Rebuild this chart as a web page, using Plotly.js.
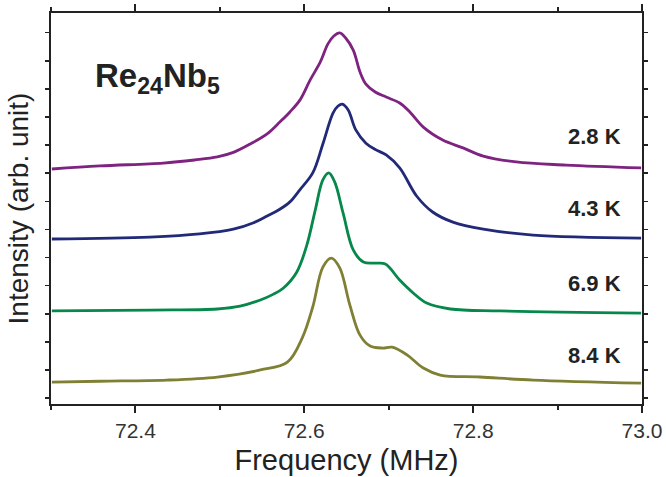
<!DOCTYPE html>
<html>
<head>
<meta charset="utf-8">
<script src="https://cdn.plot.ly/plotly-3.0.1.min.js"></script>
<style>html,body{margin:0;padding:0;background:#fff;}#chart{width:666px;height:477px;}</style>
</head>
<body>
<div id="chart"></div>
<script>
// Frequency (MHz) and intensity (arb. unit, vertically offset) for each temperature
var x28 = [72.301,72.358,72.433,72.470,72.497,72.516,72.536,72.556,72.571,72.583,72.595,72.607,72.619,72.628,72.635,72.642,72.649,72.658,72.666,72.673,72.684,72.697,72.713,72.725,72.741,72.764,72.788,72.812,72.851,72.910,72.999];
var y28 = [8.15,8.26,8.36,8.47,8.58,8.74,9.04,9.40,9.82,10.18,10.61,11.32,11.96,12.60,12.88,12.99,12.81,12.38,11.60,11.17,10.89,10.71,10.50,10.18,9.64,9.18,8.90,8.61,8.40,8.29,8.19];

var x43 = [72.301,72.417,72.476,72.516,72.540,72.556,72.570,72.583,72.595,72.610,72.622,72.634,72.640,72.645,72.652,72.661,72.673,72.685,72.697,72.713,72.733,72.752,72.776,72.812,72.871,72.999];
var y43 = [5.66,5.73,5.84,6.01,6.24,6.48,6.70,6.98,7.42,8.01,9.04,10.14,10.39,10.46,10.25,9.54,9.07,8.83,8.65,8.19,7.19,6.62,6.26,6.01,5.80,5.69];

var x69 = [72.301,72.417,72.497,72.524,72.548,72.563,72.575,72.591,72.603,72.613,72.622,72.629,72.636,72.646,72.658,72.670,72.684,72.696,72.713,72.729,72.745,72.773,72.832,72.999];
var y69 = [3.10,3.13,3.17,3.27,3.49,3.69,3.91,4.48,5.44,6.69,7.76,8.01,7.69,6.58,5.27,4.84,4.80,4.77,4.20,3.74,3.38,3.17,3.10,3.02];

var x84 = [72.301,72.358,72.437,72.497,72.548,72.580,72.598,72.610,72.622,72.632,72.642,72.654,72.666,72.678,72.693,72.704,72.722,72.741,72.761,72.808,72.871,72.999];
var y84 = [0.57,0.60,0.64,0.75,1.00,1.28,2.17,3.24,4.66,4.98,4.63,3.31,2.24,1.85,1.78,1.81,1.53,1.07,0.82,0.75,0.64,0.53];

var labels = ["2.8 K","4.3 K","6.9 K","8.4 K"];
var labelY = [9.29,6.76,4.09,1.53];
var colors = ["#7e2480","#222a78","#05884a","#7f8034"];
var xTicks = [72.4,72.6,72.8,73.0];
var xTickText = ["72.4","72.6","72.8","73.0"];

var series = [[x28,y28],[x43,y43],[x69,y69],[x84,y84]];
var data = series.map(function(s,i){
  return {x:s[0], y:s[1], type:'scatter', mode:'lines', line:{color:colors[i], width:2.8, shape:'spline', smoothing:1.0}, hoverinfo:'skip', showlegend:false};
});

var annotations = labels.map(function(t,i){
  return {x:72.977, y:labelY[i], xref:'x', yref:'y', text:'<b>'+t+'</b>', showarrow:false, xanchor:'right', yanchor:'middle', font:{family:'Liberation Sans, Arial, sans-serif', size:22, color:'#222'}};
});
annotations.push({xref:'paper', yref:'paper', x:0.071, y:0.835, xanchor:'left', yanchor:'middle', showarrow:false,
  text:'<b>Re<sub>24</sub>Nb<sub>5</sub></b>', font:{family:'Liberation Sans, Arial, sans-serif', size:33, color:'#222'}});

var layout = {
  width:666, height:477,
  margin:{l:51, r:24, t:13, b:73},
  paper_bgcolor:'#fff', plot_bgcolor:'#fff',
  font:{family:'Liberation Sans, Arial, sans-serif', color:'#333'},
  xaxis:{range:[72.3,73.0], tickvals:xTicks, ticktext:xTickText, ticks:'outside', ticklen:7, tickwidth:2, tickcolor:'#222',
    minor:{dtick:0.1, tick0:72.3, ticks:'outside', ticklen:4, tickwidth:2, tickcolor:'#222'},
    showline:true, linewidth:2.2, linecolor:'#222', mirror:'ticks', showgrid:false, zeroline:false,
    tickfont:{size:21, color:'#333'},
    title:{text:'Frequency (MHz)', font:{size:29, color:'#222'}, standoff:8}},
  yaxis:{range:[-0.21,13.70], tick0:0, dtick:1, ticks:'outside', ticklen:4, tickwidth:1.5, tickcolor:'#222',
    showticklabels:false, showline:true, linewidth:2.2, linecolor:'#222', mirror:'ticks', showgrid:false, zeroline:false,
    title:{text:'Intensity (arb. unit)', font:{size:28, color:'#222'}, standoff:8}},
  annotations:annotations
};

Plotly.newPlot('chart', data, layout, {staticPlot:true, displayModeBar:false});
</script>
</body>
</html>
